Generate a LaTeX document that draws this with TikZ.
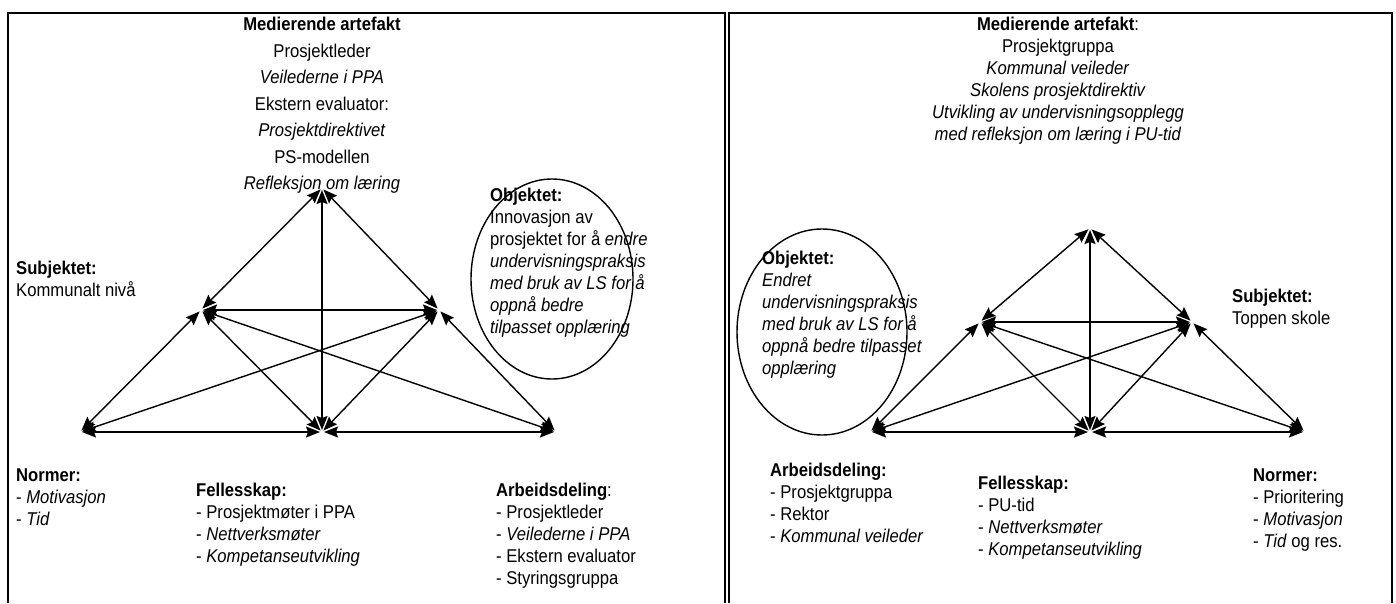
\documentclass[tikz,border=0pt]{standalone}
\usepackage{fontspec}
\setmainfont{Liberation Sans}[FakeStretch=0.9]
\usetikzlibrary{positioning,arrows.meta}
\newcommand{\nf}{\fontsize{18.5pt}{22pt}\selectfont}
\newcommand{\wf}{\fontsize{18.5pt}{26.5pt}\selectfont}
\tikzset{
  frame/.style={line width=1.8pt},
  arr/.style={{Stealth[length=14pt,width=11pt,inset=2pt]}-{Stealth[length=14pt,width=11pt,inset=2pt]},
    line width=1.4pt, shorten <=2pt, shorten >=2pt},
  lab/.style={anchor=north west, align=left, inner sep=0pt},
  head/.style={anchor=north, align=center, inner sep=0pt},
  objring/.style={line width=1.4pt},
}

\begin{document}
\begin{tikzpicture}[x=1pt, y=-1pt, font=\nf]
  \useasboundingbox (0,0) rectangle (1396,603);
  % rammer
  \draw[frame] (8,603) |- (725,13) -- (725,603);
  \draw[frame] (729,603) |- (1392,13) -- (1392,603);

  % venstre del
  \node[head, font=\wf] (medL) at (322,17) {\textbf{Medierende artefakt}\\Prosjektleder\\\textit{Veilederne i PPA}\\Ekstern evaluator:\\\textit{Prosjektdirektivet}\\PS-modellen\\\textit{Refleksjon om læring}};
  \coordinate (tL) at (322,188);
  \coordinate (blL) at (80,432);
  \coordinate (bmL) at (322,432);
  \coordinate (brL) at (556,432);
  \coordinate (mlL) at (201,310);
  \coordinate (mrL) at (439,310);
  \draw[arr] (tL) -- (mlL);
  \draw[arr] (tL) -- (mrL);
  \draw[arr] (tL) -- (bmL);
  \draw[arr] (mlL) -- (mrL);
  \draw[arr] (mlL) -- (blL);
  \draw[arr] (mlL) -- (bmL);
  \draw[arr] (mlL) -- (brL);
  \draw[arr] (mrL) -- (blL);
  \draw[arr] (mrL) -- (bmL);
  \draw[arr] (mrL) -- (brL);
  \draw[arr] (blL) -- (bmL);
  \draw[arr] (bmL) -- (brL);
  \draw[objring] (552,279) ellipse [x radius=81pt, y radius=100pt];
  \node[lab] (objL) at (490,188) {\textbf{Objektet:}\\Innovasjon av\\prosjektet for å \textit{endre}\\\textit{undervisningspraksis}\\\textit{med bruk av LS for å}\\\textit{oppnå bedre}\\\textit{tilpasset opplæring}};
  \node[lab] (subL) at (16,261) {\textbf{Subjektet:}\\Kommunalt nivå};
  \node[lab] (norL) at (16,469) {\textbf{Normer:}\\- \textit{Motivasjon}\\- \textit{Tid}};
  \node[lab] (felL) at (196,483) {\textbf{Fellesskap:}\\- Prosjektmøter i PPA\\- \textit{Nettverksmøter}\\- \textit{Kompetanseutvikling}};
  \node[lab] (arbL) at (496,483) {\textbf{Arbeidsdeling}:\\- Prosjektleder\\- \textit{Veilederne i PPA}\\- Ekstern evaluator\\- Styringsgruppa};

  % høyre del
  \node[head] (medR) at (1058,17) {\textbf{Medierende artefakt}:\\Prosjektgruppa\\\textit{Kommunal veileder}\\\textit{Skolens prosjektdirektiv}\\\textit{Utvikling av undervisningsopplegg}\\\textit{med refleksjon om læring i PU-tid}};
  \coordinate (tR) at (1090,228);
  \coordinate (blR) at (870,432);
  \coordinate (bmR) at (1090,432);
  \coordinate (brR) at (1305,432);
  \coordinate (mlR) at (980,322);
  \coordinate (mrR) at (1192,322);
  \draw[arr] (tR) -- (mlR);
  \draw[arr] (tR) -- (mrR);
  \draw[arr] (tR) -- (bmR);
  \draw[arr] (mlR) -- (mrR);
  \draw[arr] (mlR) -- (blR);
  \draw[arr] (mlR) -- (bmR);
  \draw[arr] (mlR) -- (brR);
  \draw[arr] (mrR) -- (blR);
  \draw[arr] (mrR) -- (bmR);
  \draw[arr] (mrR) -- (brR);
  \draw[arr] (blR) -- (bmR);
  \draw[arr] (bmR) -- (brR);
  \draw[objring] (822,332) ellipse [x radius=85pt, y radius=103pt];
  \node[lab] (objR) at (762,251) {\textbf{Objektet:}\\\textit{Endret}\\\textit{undervisningspraksis}\\\textit{med bruk av LS for å}\\\textit{oppnå bedre tilpasset}\\\textit{opplæring}};
  \node[lab] (subR) at (1232,289) {\textbf{Subjektet:}\\Toppen skole};
  \node[lab] (arbR) at (770,463) {\textbf{Arbeidsdeling:}\\- Prosjektgruppa\\- Rektor\\- \textit{Kommunal veileder}};
  \node[lab] (felR) at (978,476) {\textbf{Fellesskap:}\\- PU-tid\\- \textit{Nettverksmøter}\\- \textit{Kompetanseutvikling}};
  \node[lab] (norR) at (1253,469) {\textbf{Normer:}\\- Prioritering\\- \textit{Motivasjon}\\- \textit{Tid} og res.};
\end{tikzpicture}
\end{document}
